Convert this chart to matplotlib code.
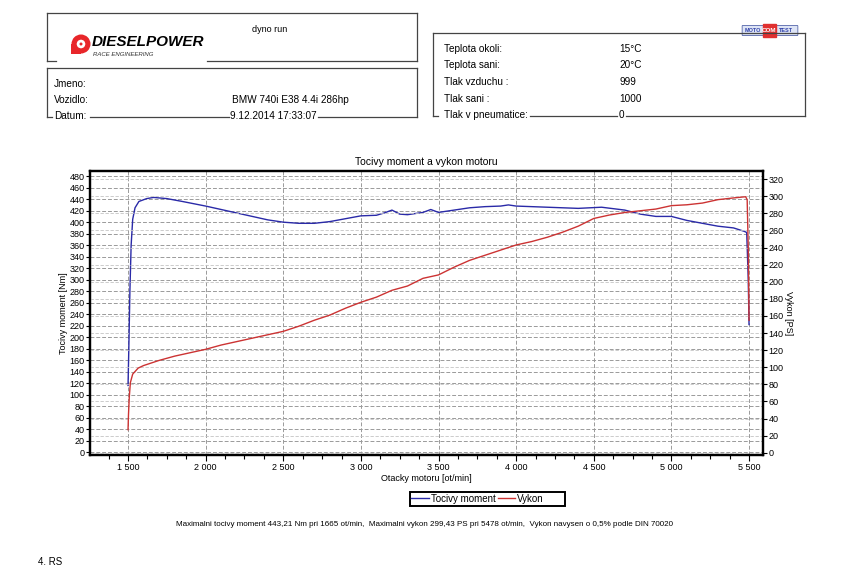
import numpy as np
import matplotlib.pyplot as plt
from matplotlib.patches import Rectangle, Ellipse, FancyBboxPatch
from matplotlib.lines import Line2D
from matplotlib.ticker import MultipleLocator, FuncFormatter

# data read from the dyno sheet
rpm_torque = [1500, 1505, 1512, 1520, 1530, 1545, 1570, 1620, 1665, 1750, 1850, 2000,
              2100, 2200, 2300, 2400, 2500, 2600, 2700, 2800, 2900, 3000, 3100, 3150,
              3200, 3250, 3300, 3400, 3450, 3500, 3600, 3700, 3800, 3900, 3950, 4000,
              4200, 4400, 4550, 4700, 4800, 4900, 5000, 5100, 5200, 5300, 5400, 5470,
              5485, 5495, 5500]
torque = [116, 180, 280, 360, 405, 425, 436, 441, 443, 441, 436, 428,
          422, 416, 410, 404, 400, 398, 398, 401, 406, 411, 412, 416,
          421, 414, 413, 417, 422, 417, 421, 425, 427, 428, 430, 428,
          426, 424, 426, 421, 414, 410, 410, 403, 398, 393, 390, 384,
          382, 300, 222]

rpm_power = [1500, 1503, 1508, 1515, 1530, 1565, 1600, 1700, 1800, 1900, 2000, 2100,
             2200, 2300, 2400, 2500, 2600, 2700, 2800, 2900, 3000, 3100, 3150, 3200,
             3300, 3400, 3500, 3600, 3700, 3800, 3900, 4000, 4100, 4200, 4300, 4400,
             4500, 4600, 4700, 4800, 4900, 5000, 5100, 5200, 5300, 5400, 5478, 5488,
             5495, 5500]
power = [27, 45, 65, 82, 92, 99, 102, 108, 113, 117, 121, 126,
         130, 134, 138, 142, 148, 155, 161, 169, 176, 182, 186, 190,
         195, 204, 208, 217, 225, 231, 237, 243, 247, 252, 258, 265,
         274, 278, 281, 283, 285, 289, 290, 292, 296, 298, 299.4, 296,
         240, 155]

W, H = 850, 583


def px(x, y):
    # pixel position -> figure fraction
    return x / W, 1 - y / H


def hline(fig, x0, x1, y, color='#444444'):
    fig.add_artist(Line2D([x0 / W, x1 / W], [1 - y / H, 1 - y / H],
                          transform=fig.transFigure, color=color, lw=0.9))


def vline(fig, x, y0, y1):
    fig.add_artist(Line2D([x / W, x / W], [1 - y0 / H, 1 - y1 / H],
                          transform=fig.transFigure, color='#444444', lw=0.9))


def disc(fig, x, y, r, **kw):
    fig.add_artist(Ellipse(px(x, y), 2 * r / W, 2 * r / H,
                           transform=fig.transFigure, **kw))


def txt(fig, x, y, s, **kw):
    kw.setdefault('fontsize', 7.2)
    kw.setdefault('va', 'center')
    return fig.text(*px(x, y), s, **kw)


plt.rcParams['font.family'] = ['Liberation Sans', 'DejaVu Sans']
fig = plt.figure(figsize=(8.5, 5.83), dpi=100)
fig.patch.set_facecolor('white')

# ---- header ----
# top box (logo + dyno run), bottom line broken by the logo
vline(fig, 47, 13, 61)
vline(fig, 417, 13, 61)
hline(fig, 47, 417, 13)
hline(fig, 47, 56, 61)
hline(fig, 207, 417, 61)
txt(fig, 270, 30, 'dyno run', fontsize=6.5, ha='center')

# logo
fig.add_artist(Rectangle(px(71, 54), 10 / W, 10 / H, transform=fig.transFigure,
                         facecolor='#e8262a', edgecolor='none'))
disc(fig, 81, 44, 9.5, facecolor='#e8262a', edgecolor='none')
disc(fig, 81, 44, 5, facecolor='white', edgecolor='#e8262a', lw=1.0)
disc(fig, 81, 44, 1.5, facecolor='#e8262a', edgecolor='none')
txt(fig, 92, 42, 'DIESELPOWER', fontsize=11, fontweight='bold', style='italic',
    ha='left')
txt(fig, 93, 55, 'RACE ENGINEERING', fontsize=4.3, style='italic', ha='left', color='#333333')

# vehicle box
vline(fig, 47, 68, 117)
vline(fig, 417, 68, 117)
hline(fig, 47, 417, 68)
hline(fig, 47, 52, 117)
hline(fig, 90, 229, 117)
hline(fig, 318, 417, 117)
txt(fig, 54, 84, 'Jmeno:', ha='left')
txt(fig, 54, 100, 'Vozidlo:', ha='left')
txt(fig, 54, 116, 'Datum:', ha='left')
txt(fig, 232, 100, 'BMW 740i E38 4.4i 286hp', ha='left')
txt(fig, 230, 116, '9.12.2014 17:33:07', ha='left')

# conditions box
vline(fig, 433, 33, 116)
vline(fig, 805, 33, 116)
hline(fig, 433, 805, 33)
hline(fig, 433, 438, 116)
hline(fig, 530, 617, 116)
hline(fig, 626, 805, 116)
labels = ['Teplota okoli:', 'Teplota sani:', 'Tlak vzduchu :', 'Tlak sani :', 'Tlak v pneumatice:']
values = ['15°C', '20°C', '999', '1000', '0']
for i, (lab, val) in enumerate(zip(labels, values)):
    y = 49 + i * 16.5
    txt(fig, 444, y, lab, ha='left')
    txt(fig, 619, y, val, ha='left')

# MOTO COM TEST badge
fig.add_artist(FancyBboxPatch(px(743, 35), 54 / W, 9 / H, boxstyle='round,pad=0.001',
                              transform=fig.transFigure, facecolor='#dde4f5',
                              edgecolor='#5566aa', lw=0.6))
fig.add_artist(Rectangle(px(763, 37), 13 / W, 13 / H, transform=fig.transFigure,
                         facecolor='#e03030', edgecolor='#e03030'))
txt(fig, 753, 30.5, 'MOTO', fontsize=4, color='#3344aa', fontweight='bold', ha='center')
txt(fig, 769.5, 30.5, 'COM', fontsize=4.5, color='white', fontweight='bold', ha='center')
txt(fig, 786, 30.5, 'TEST', fontsize=4, color='#3344aa', fontweight='bold', ha='center')

# ---- chart ----
x0, x1 = px(90, 0)[0], px(763, 0)[0]
yb, yt = px(0, 455)[1], px(0, 171)[1]
ax = fig.add_axes([x0, yb, x1 - x0, yt - yb])
ax2 = ax.twinx()

ax.set_xlim(1255, 5590)
ax.set_ylim(-5, 489)
ax2.set_ylim(-2.6, 329.5)

ax.xaxis.set_major_locator(MultipleLocator(500))
ax.xaxis.set_minor_locator(MultipleLocator(125))
ax.xaxis.set_major_formatter(FuncFormatter(lambda v, p: f'{int(v):,}'.replace(',', ' ')))
ax.yaxis.set_major_locator(MultipleLocator(20))
ax2.yaxis.set_major_locator(MultipleLocator(20))

ax.grid(True, which='major', axis='both', color='#9a9a9a', ls=(0, (4, 2)), lw=0.7)
ax2.grid(True, which='major', axis='y', color='#c4c4c4', ls=(0, (4, 2)), lw=0.6)

ax.plot(rpm_torque, torque, color='#2a2aa8', lw=1.0, label='Tocivy moment')
ax2.plot(rpm_power, power, color='#cc3333', lw=1.0, label='Vykon')

for a in (ax, ax2):
    for s in a.spines.values():
        s.set_linewidth(1.6)
        s.set_color('black')
    a.tick_params(labelsize=6.5, length=3, width=0.8, pad=1)
ax.tick_params(axis='x', which='minor', length=3, width=0.8)
ax.tick_params(axis='x', which='major', length=4, pad=2)

ax.set_title('Tocivy moment a vykon motoru', fontsize=7.5, pad=4)
ax.set_xlabel('Otacky motoru [ot/min]', fontsize=6.5, labelpad=1)
ax.set_ylabel('Tocivy moment [Nm]', fontsize=6.5, labelpad=1)
ax2.set_ylabel('Vykon [PS]', fontsize=6.5, rotation=-90, labelpad=7)

h1, l1 = ax.get_legend_handles_labels()
h2, l2 = ax2.get_legend_handles_labels()
leg = fig.legend(h1 + h2, l1 + l2, loc='center left', bbox_to_anchor=px(410, 498.5), ncol=2,
                 fontsize=7, frameon=False, borderpad=0.15, handlelength=1.8,
                 handletextpad=0.2, columnspacing=0.2, borderaxespad=0)
# the original legend box is wider than its entries, so draw the frame separately
fig.add_artist(Rectangle(px(410, 505.5), 155 / W, 14 / H, transform=fig.transFigure,
                         fill=False, edgecolor='black', lw=1.4))

txt(fig, 425, 525, 'Maximalni tocivy moment 443,21 Nm pri 1665 ot/min,  Maximalni vykon 299,43 PS pri 5478 ot/min,  Vykon navysen o 0,5% podle DIN 70020',
    fontsize=5.8, ha='center')
txt(fig, 38, 562, '4. RS', fontsize=7, ha='left')

fig.savefig('out.png', dpi=100, facecolor='white')
